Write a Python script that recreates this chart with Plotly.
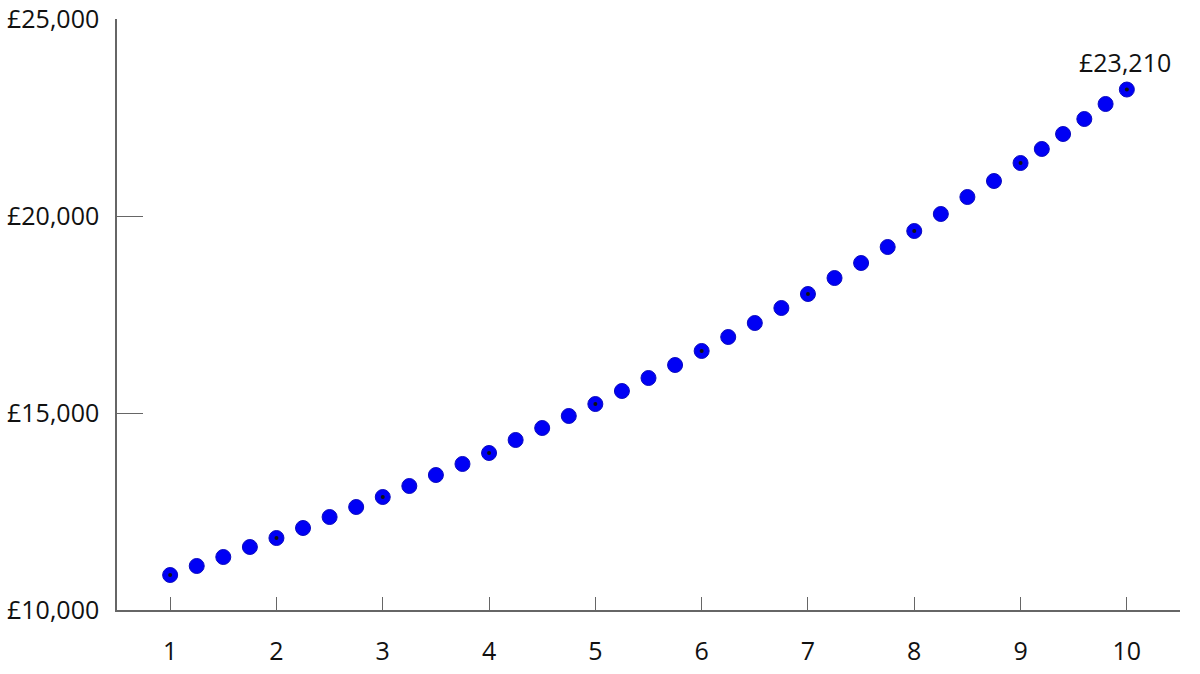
import plotly.graph_objects as go

years = [1, 1.25, 1.5, 1.75, 2, 2.25, 2.5, 2.75, 3, 3.25, 3.5, 3.75, 4, 4.25, 4.5, 4.75,
         5, 5.25, 5.5, 5.75, 6, 6.25, 6.5, 6.75, 7, 7.25, 7.5, 7.75, 8, 8.25, 8.5, 8.75,
         9, 9.2, 9.4, 9.6, 9.8, 10]
values = [10888, 11117, 11345, 11599, 11827, 12081, 12360, 12614, 12868, 13147, 13426, 13706,
          13985, 14315, 14619, 14924, 15228, 15558, 15888, 16218, 16574, 16929, 17284, 17665,
          18020, 18426, 18807, 19213, 19619, 20051, 20482, 20888, 21345, 21701, 22081, 22462,
          22843, 23210]
whole_years = [1, 2, 3, 4, 5, 6, 7, 8, 9, 10]
whole_values = [10888, 11827, 12868, 13985, 15228, 16574, 18020, 19619, 21345, 23210]
y_ticks = [10000, 15000, 20000, 25000]
y_tick_text = ["£10,000", "£15,000", "£20,000", "£25,000"]
final_label = "£23,210"

font_family = "Open Sans, Noto Sans, sans-serif"

fig = go.Figure()
fig.add_trace(go.Scatter(
    x=years, y=values, mode="markers",
    marker=dict(color="#0000f5", size=15, line=dict(color="#0a0ac0", width=1)),
    showlegend=False, hoverinfo="x+y", cliponaxis=False))
fig.add_trace(go.Scatter(
    x=whole_years, y=whole_values, mode="markers",
    marker=dict(color="#111111", size=4),
    showlegend=False, hoverinfo="skip", cliponaxis=False))

fig.add_annotation(x=10, y=whole_values[-1], text=final_label, showarrow=False,
                   yshift=28, xshift=-2, font=dict(size=25, color="#111111", family=font_family))

fig.update_layout(
    width=1200, height=674,
    margin=dict(l=117, r=20, t=19, b=64, autoexpand=False),
    paper_bgcolor="white", plot_bgcolor="white",
    font=dict(family=font_family, size=25, color="#111111"),
    xaxis=dict(range=[0.5, 10.5], tickvals=whole_years, ticktext=[str(v) for v in whole_years],
               showgrid=False, zeroline=False, showline=True, linecolor="#666666", linewidth=1.5,
               ticks="inside", ticklen=13, tickcolor="#666666", tickwidth=1.2, automargin=False,
               ticklabelstandoff=18, tickfont=dict(size=25)),
    yaxis=dict(range=[10000, 25000], tickvals=y_ticks, ticktext=y_tick_text,
               showgrid=False, zeroline=False, showline=True, linecolor="#666666", linewidth=1.5,
               ticks="inside", ticklen=26, tickcolor="#666666", tickwidth=1.2, automargin=False,
               ticklabelstandoff=11, tickfont=dict(size=25)),
)

fig.write_html("out.html", config={"displayModeBar": False},
               post_script="document.body.style.margin='0';")
